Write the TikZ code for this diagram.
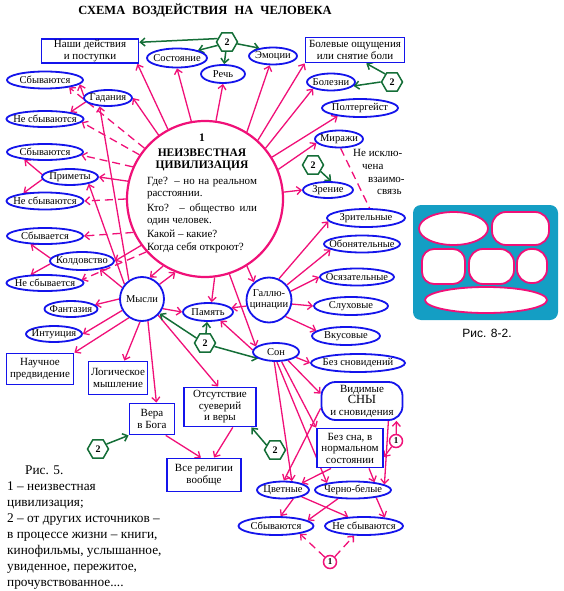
\documentclass[tikz,border=0pt]{standalone}
\usepackage{fontspec}
\setmainfont{Liberation Serif}
\newfontfamily\sansf{Liberation Sans}
\usetikzlibrary{shapes.geometric,arrows.meta,backgrounds}
\definecolor{cblue}{RGB}{20,20,235}
\definecolor{cpink}{RGB}{240,16,120}
\definecolor{cgreen}{RGB}{20,110,55}
\definecolor{cteal}{RGB}{20,158,196}
\newcommand\zb[1]{\makebox[0pt]{#1}}
\begin{document}
\begin{tikzpicture}[x=1pt,y=-1pt,
  font=\fontsize{10.5}{12}\selectfont,
  ell/.style={ellipse, draw=cblue, line width=1.8pt, inner sep=0pt, fill=white},
  rbox/.style={rectangle, draw=cblue, line width=1.8pt, inner sep=1pt, align=center, fill=white, font=\fontsize{11}{11.5}\selectfont},
  circ/.style={circle, draw=cblue, line width=1.8pt, inner sep=0pt, fill=white},
  hexa/.style={regular polygon, regular polygon sides=6, draw=cgreen, line width=1.5pt, fill=white, minimum size=21pt, inner sep=0pt, font=\bfseries\fontsize{10}{10}\selectfont},
  pone/.style={circle, draw=cpink, line width=1.5pt, fill=white, minimum size=13pt, inner sep=0pt, font=\bfseries\fontsize{9}{9}\selectfont},
  arr/.style={draw=cpink, line width=1.3pt, -{Straight Barb[length=4.5pt,width=8pt]}},
  darr/.style={arr, dash pattern=on 8pt off 5pt},
  garr/.style={draw=cgreen, line width=1.5pt, -{Straight Barb[length=4.5pt,width=8pt]}},
  dline/.style={draw=cpink, line width=1.3pt, dash pattern=on 8pt off 5pt}]
\useasboundingbox (0,0) rectangle (563,591);

% title
\node[font=\bfseries\fontsize{12.5}{14}\selectfont, inner sep=0] (title) at (205,11) {СХЕМА\hspace{4pt} ВОЗДЕЙСТВИЯ\hspace{4pt} НА\hspace{4pt} ЧЕЛОВЕКА};

% main circle
\node[circle, draw=cpink, line width=2.2pt, minimum size=156pt, inner sep=0pt, fill=white] (C) at (205,199) {};
\node[inner sep=0, font=\fontsize{11}{12}\selectfont] (Ct) at (202,193) {\parbox{110pt}{\baselineskip=12pt
  \centering\bfseries\fontsize{11.5}{12}\selectfont 1\\[3pt] НЕИЗВЕСТНАЯ\\ ЦИВИЛИЗАЦИЯ\par
  \vskip4pt\mdseries\fontsize{11}{12}\selectfont\raggedright
  \hbox to 110pt{Где? – но на реальном}
  расстоянии.\par\vskip3pt
  \hbox to 110pt{Кто? – общество или}
  один человек.\par\vskip2pt
  Какой – какие?\par\vskip1pt
  Когда себя откроют?\par}};

% top nodes
\node[rbox, minimum width=97pt, minimum height=24pt] (nashi) at (90,51) {Наши действия\\и поступки};
\node[ell, minimum width=60pt, minimum height=19pt] (sost) at (177,58) {\zb{Состояние}};
\node[ell, minimum width=44pt, minimum height=18pt] (rech) at (223,74) {\zb{Речь}};
\node[ell, minimum width=48pt, minimum height=17pt] (emo) at (273,56) {\zb{Эмоции}};
\node[rbox, minimum width=99pt, minimum height=25pt] (bolev) at (355,50) {Болевые ощущения\\или снятие боли};
\node[ell, minimum width=48pt, minimum height=17pt] (bolez) at (331,82) {\zb{Болезни}};
\node[ell, minimum width=76pt, minimum height=18pt] (polt) at (360,108) {\zb{Полтергейст}};
\node[ell, minimum width=48pt, minimum height=17pt] (mir) at (339,139) {\zb{Миражи}};
\node[ell, minimum width=50pt, minimum height=16pt] (zren) at (328,190) {\zb{Зрение}};
\node[anchor=north west, align=left, inner sep=0, font=\fontsize{11}{12.8}\selectfont] (rem) at (353,149) {Не исклю-\\\hspace*{9pt}чена\\\hspace*{15pt}взаимо-\\\hspace*{24pt}связь};

% right column
\node[ell, minimum width=78pt, minimum height=18pt] (zrit) at (366,218) {\zb{Зрительные}};
\node[ell, minimum width=76pt, minimum height=17pt] (obon) at (362,244) {\zb{Обонятельные}};
\node[ell, minimum width=74pt, minimum height=17pt] (osyaz) at (357,277) {\zb{Осязательные}};
\node[ell, minimum width=74pt, minimum height=18pt] (sluh) at (351,306) {\zb{Слуховые}};
\node[ell, minimum width=68pt, minimum height=18pt] (vkus) at (346,336) {\zb{Вкусовые}};
\node[ell, minimum width=94pt, minimum height=18pt] (bezsnov) at (358,363) {\zb{Без сновидений}};
\node[circ, minimum size=45pt] (gall) at (269,300) {\zb{\begin{tabular}{@{}c@{}}Галлю-\\[-1pt]цинации\end{tabular}}};
\node[ell, minimum width=50pt, minimum height=18pt] (pam) at (208,312) {\zb{Память}};
\node[ell, minimum width=46pt, minimum height=18pt] (son) at (276,352) {\zb{Сон}};

% left column
\node[ell, minimum width=76pt, minimum height=17pt] (s1) at (45,80) {\zb{Сбываются}};
\node[ell, minimum width=48pt, minimum height=16pt] (gad) at (108,98) {\zb{Гадания}};
\node[ell, minimum width=77pt, minimum height=16pt] (n1) at (45,119) {\zb{Не сбываются}};
\node[ell, minimum width=76pt, minimum height=16pt] (s2) at (45,152) {\zb{Сбываются}};
\node[ell, minimum width=56pt, minimum height=16pt] (prim) at (70,177) {\zb{Приметы}};
\node[ell, minimum width=77pt, minimum height=17pt] (n2) at (45,201) {\zb{Не сбываются}};
\node[ell, minimum width=76pt, minimum height=16pt] (s3) at (45,236) {\zb{Сбывается}};
\node[ell, minimum width=64pt, minimum height=18pt] (kold) at (82,261) {\zb{Колдовство}};
\node[ell, minimum width=77pt, minimum height=16pt] (n3) at (45,283) {\zb{Не сбывается}};
\node[circ, minimum size=44pt] (mysl) at (142,299) {\zb{Мысли}};
\node[ell, minimum width=53pt, minimum height=16pt] (fant) at (71,309) {\zb{Фантазия}};
\node[ell, minimum width=56pt, minimum height=16pt] (intu) at (54,334) {\zb{Интуиция}};
\node[rbox, minimum width=67pt, minimum height=31pt] (nauch) at (40,369) {Научное\\предвидение};
\node[rbox, minimum width=59pt, minimum height=33pt] (logic) at (118,378) {Логическое\\мышление};
\node[rbox, minimum width=45pt, minimum height=31pt] (vera) at (152,419) {Вера\\в Бога};
\node[rbox, minimum width=72pt, minimum height=39pt] (otsut) at (220,407) {Отсутствие\\суеверий\\и веры};
\node[rbox, minimum width=74pt, minimum height=33pt] (vse) at (204,475) {Все религии\\вообще};

% sleep area
\node[rbox, rounded corners=14pt, minimum width=81pt, minimum height=38pt] (vid) at (362,401) {Видимые\\{\fontsize{12.5}{12}\selectfont СНЫ}\\и сновидения};
\node[rbox, minimum width=66pt, minimum height=39pt] (bezsna) at (350,448) {Без сна, в\\нормальном\\состоянии};
\node[ell, minimum width=52pt, minimum height=17pt] (cvet) at (283,490) {\zb{Цветные}};
\node[ell, minimum width=76pt, minimum height=17pt] (chb) at (353,490) {\zb{Черно-белые}};
\node[ell, minimum width=75pt, minimum height=18pt] (sb) at (276,526) {\zb{Сбываются}};
\node[ell, minimum width=78pt, minimum height=18pt] (nsb) at (364,526) {\zb{Не сбываются}};
\node[pone] (o1) at (396,441) {1};
\node[pone] (o2) at (330,562) {1};

% hexagons
\node[hexa] (h1) at (227,42) {2};
\node[hexa] (h2) at (392,82) {2};
\node[hexa] (h3) at (313,165) {2};
\node[hexa] (h4) at (205,343) {2};
\node[hexa] (h5) at (98,449) {2};
\node[hexa] (h6) at (275,450) {2};

% caption
\node[anchor=north west, align=left, inner sep=0, font=\fontsize{13.3}{16}\selectfont] (cap) at (7,466) {\hspace*{18pt}Рис. 5.\\1 – неизвестная\\цивилизация;\\2 – от других источников –\\в процессе жизни – книги,\\кинофильмы, услышанное,\\увиденное, пережитое,\\прочувствованное....};

% figure 8-2
\fill[cteal, rounded corners=8pt] (413,205) rectangle (558,320);
\begin{scope}[draw=cpink, line width=1.8pt, fill=white]
\filldraw (453.5,228.5) ellipse [x radius=34.5pt, y radius=16.5pt];
\filldraw[rounded corners=14pt] (492,212) rectangle (549,245);
\filldraw[rounded corners=12pt] (422,249) rectangle (465,284);
\filldraw[rounded corners=14pt] (469,249) rectangle (514,284);
\filldraw[rounded corners=14pt] (517,249) rectangle (547,283);
\filldraw (486,300) ellipse [x radius=61pt, y radius=13pt];
\end{scope}
\node[font=\sansf\fontsize{12}{14}\selectfont, inner sep=0] (fig82) at (487,333) {Рис. 8-2.};

\begin{pgfonlayer}{background}
% from central circle
\draw[arr] (C.118) -- ([xshift=-2pt]nashi.south east);
\draw[arr] (C.126) -- (gad.east);
\draw[arr] (C.100) -- (sost.south);
\draw[arr] (C.82) -- (rech.south);
\draw[arr] (C.58) -- (emo.250);
\draw[arr] (C.48) -- (bolev.south west);
\draw[arr] (C.40) -- (bolez.200);
\draw[arr] (C.32) -- (polt.200);
\draw[arr] (C.22) -- (mir.190);
\draw[arr] (C.5) -- (zren.west);
\draw[arr] (C.167) -- (prim.east);
\draw[arr] (C.216) -- (kold.east);
\draw[arr] (C.302) -- (gall.130);
\draw[arr] (C.288) -- (son.165);
\draw[arr] (C.277) -- (pam.70);
\draw[arr] (C.238) -- (mysl.70);
\draw[arr] (mysl.40) -- (C.248);
% dashed from central circle
\draw[darr] (C.140) -- (s1.-17);
\draw[darr] (C.146) -- (n1.-5);
\draw[darr] (C.156) -- (s2.-5);
\draw[darr] (C.180) -- (n2.east);
\draw[darr] (C.205) -- (s3.east);
\draw[darr] (C.222) -- (n3.5);
% groups
\draw[arr] (gad.175) -- (s1.-7);
\draw[arr] (gad.190) -- (n1.15);
\draw[arr] (prim.175) -- (s2.-160);
\draw[arr] (prim.185) -- (n2.160);
\draw[arr] (kold.175) -- (s3.-150);
\draw[arr] (kold.185) -- (n3.150);
% thoughts
\draw[arr] (mysl.125) -- (gad.-135);
\draw[arr] (mysl.140) -- (prim.-20);
\draw[arr] (mysl.150) -- (kold.-25);
\draw[arr] (mysl.180) -- (fant.10);
\draw[arr] (mysl.210) -- (intu.east);
\draw[arr] (mysl.235) -- (nauch.north east);
\draw[arr] (mysl.265) -- (logic.70);
\draw[arr] (mysl.285) -- (vera.75);
\draw[arr] (mysl.315) -- (otsut.95);
\draw[arr] (mysl.-25) -- (pam.west);
\draw[arr] (vera.-50) -- (vse.100);
\draw[arr] (otsut.-58) -- (vse.60);
% green
\draw[garr] (h1.160) -- (nashi.10);
\draw[garr] (h1.200) -- (sost.20);
\draw[garr] (h1) -- (rech);
\draw[garr] (h1.-10) -- (emo.150);
\draw[garr] (h2.130) -- (bolev.-50);
\draw[garr] (h2.west) -- (bolez.-10);
\draw[garr] (h3.-40) -- (zren.70);
\draw[garr] (h4.150) -- (mysl.-40);
\draw[garr] (h4) -- (pam);
\draw[garr] (h4.-20) -- (son.200);
\draw[garr] (h5.30) -- (vera.south west);
\draw[garr] (h6.150) -- (otsut.-33);
% hallucinations
\draw[arr] (gall.65) -- (zrit.185);
\draw[arr] (gall.40) -- (obon.190);
\draw[arr] (gall.22) -- (osyaz.west);
\draw[arr] (gall.-10) -- (sluh.west);
\draw[arr] (gall.-45) -- (vkus.170);
\draw[arr] (gall.195) -- (pam.10);
\draw[dline] (mir.-80) -- (zrit.70);
% sleep
\draw[arr] (son.175) -- (pam.-35);
\draw[arr] (son.-15) -- (bezsnov.west);
\draw[arr] (son.-35) -- (vid.170);
\draw[arr] (son.-60) -- (bezsna.north west);
\draw[arr] (son.-85) -- (chb.165);
\draw[arr] (son.-100) -- (cvet.45);
\draw[arr] (vid.190) -- (cvet.85);
\draw[arr] (vid.-37) -- (chb.10);
\draw[arr] (bezsna.-133) -- (cvet.20);
\draw[arr] (bezsna.-47) -- (chb.20);
\draw[arr] (o1) -- (vid.-30);
\draw[arr] (o1) -- (bezsna.-15);
\draw[arr] (cvet.-40) -- (sb.65);
\draw[arr] (cvet.-20) -- (nsb.150);
\draw[arr] (chb.-150) -- (sb.10);
\draw[arr] (chb.-18) -- (nsb.22);
\draw[darr] (o2) -- (sb.-18);
\draw[darr] (o2) -- (nsb.-136);
\end{pgfonlayer}
\end{tikzpicture}
\end{document}
